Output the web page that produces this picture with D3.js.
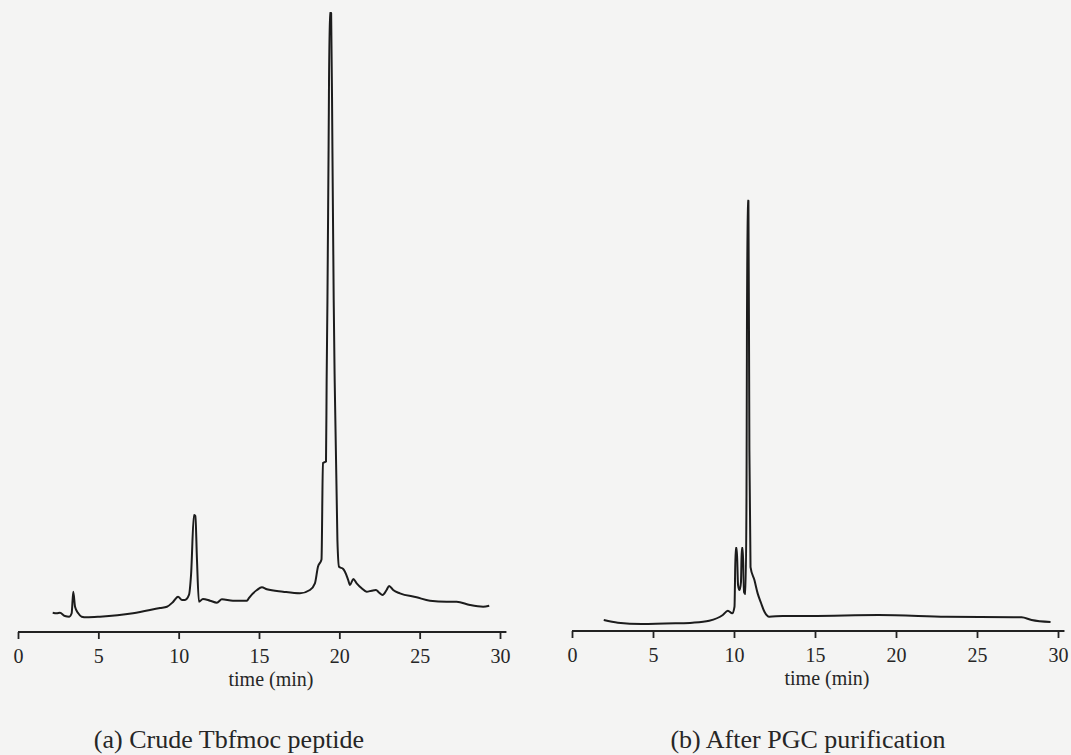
<!DOCTYPE html>
<html>
<head>
<title>HPLC traces</title>
<style>
  body { margin: 0; background: #f4f4f3; }
  text { font-family: "Liberation Serif", "Times New Roman", serif; fill: #262626; }
</style>
<script type="text/javascript" src="https://d3js.org/d3.v7.min.js"></script>
</head>
<body>
<svg id="chart" width="1071" height="755"></svg>
<script type="text/javascript">
// tick labels on both time axes
const timeTicks = [0, 5, 10, 15, 20, 25, 30];

// (a) crude Tbfmoc peptide: time (min) and detector signal (arb. units)
const timeA = [2.16, 2.41, 2.61, 2.92, 3.19, 3.34, 3.44, 3.55, 3.75, 3.96, 4.27, 5.10, 7.16, 8.84, 9.27, 9.65,
  9.96, 10.21, 10.39, 10.64, 10.77, 10.95, 11.04, 11.14, 11.26, 11.51, 11.95, 12.38, 12.69, 13.38, 14.25, 14.37,
  14.87, 15.18, 15.49, 16.49, 17.55, 18.17, 18.48, 18.67, 18.89, 18.98, 19.17, 19.21, 19.26, 19.33, 19.40,
  19.49, 19.57, 19.65, 19.71, 19.88,
  19.98, 20.24, 20.35, 20.55, 20.66, 20.87, 21.08, 21.39, 21.70, 22.01, 22.28, 22.48, 22.69, 22.94, 23.10, 23.35,
  23.77, 24.81, 25.64, 26.68, 27.30, 28.13, 28.95, 29.33];
const signalA = [3.11, 3.02, 3.11, 2.58, 2.47, 3.02, 6.50, 4.08, 3.02, 2.47, 2.37, 2.47, 3.02, 3.87, 4.08, 4.84,
  5.69, 5.16, 5.16, 5.97, 9.19, 18.87, 18.70, 11.60, 4.89, 5.32, 5.05, 4.73, 5.27, 5.05, 5.05, 5.48,
  6.77, 7.21, 6.89, 6.50, 6.24, 6.77, 7.85, 10.53, 11.69, 27.26, 27.50, 40.65, 53.50, 77.70, 99.84,
  99.84, 77.70, 53.50, 40.65, 14.84,
  10.53, 10.16, 9.73, 8.39, 7.58, 8.55, 7.85, 7.05, 6.50, 6.66, 6.77, 6.34, 5.97, 6.77, 7.42, 6.77,
  6.24, 5.60, 5.05, 4.89, 4.89, 4.35, 4.08, 4.24];

// (b) after PGC purification
const timeB = [1.96, 2.83, 4.30, 6.38, 7.43, 8.47, 9.31, 9.62, 9.89, 10.03, 10.10, 10.17, 10.25, 10.34, 10.43,
  10.48, 10.54, 10.62, 10.71, 10.77, 10.83, 10.89, 10.95, 11.02, 11.26, 11.46, 11.67, 11.88, 12.18, 13.00,
  14.74, 18.91, 23.10, 27.26, 27.75, 28.37, 29.54];
const signalB = [1.77, 1.34, 1.13, 1.24, 1.34, 1.66, 2.58, 3.27, 2.85, 3.92, 13.39, 13.39, 7.42, 6.61, 7.90,
  13.39, 13.39, 6.29, 5.97, 21.10, 69.50, 69.50, 29.20, 10.32, 8.23, 6.08, 4.52, 3.11, 2.31, 2.42,
  2.42, 2.58, 2.31, 2.21, 2.21, 1.77, 1.45];

const captions = ["(a) Crude Tbfmoc peptide", "(b) After PGC purification"];
const axisLabel = "time (min)";

const svg = d3.select("#chart");

const panels = [
  { t: timeA, v: signalA, x0: 18, x1: 500, axisY: 632, cap: captions[0], capX: 229 },
  { t: timeB, v: signalB, x0: 572, x1: 1058, axisY: 631, cap: captions[1], capX: 808 }
];

panels.forEach(p => {
  const x = d3.scaleLinear().domain([0, 30]).range([p.x0, p.x1]);
  const y = d3.scaleLinear().domain([0, 100]).range([p.axisY, 12]);

  const g = svg.append("g");

  // axis line runs a little past 30
  g.append("line")
    .attr("x1", x(0)).attr("x2", x(30.4))
    .attr("y1", p.axisY).attr("y2", p.axisY)
    .style("stroke", "#222").style("stroke-width", 1.8);

  const xAxis = d3.axisBottom(x)
    .tickValues(timeTicks)
    .tickSizeInner(7)
    .tickSizeOuter(0)
    .tickPadding(10);

  const ax = g.append("g")
    .attr("transform", `translate(0, ${p.axisY})`)
    .call(xAxis);
  ax.select(".domain").remove();
  ax.selectAll(".tick line").style("stroke", "#222").style("stroke-width", 1.8);
  ax.selectAll(".tick text")
    .style("font-family", "'Liberation Serif', serif")
    .style("font-size", "20px")
    .style("fill", "#262626");

  g.append("text")
    .attr("x", (x(0) + x(30)) / 2 + 12)
    .attr("y", p.axisY + 54)
    .attr("text-anchor", "middle")
    .style("font-size", "20px")
    .text(axisLabel);

  g.append("text")
    .attr("x", p.capX)
    .attr("y", 748)
    .attr("text-anchor", "middle")
    .style("font-size", "26px")
    .text(p.cap);

  const trace = d3.line()
    .x((d, i) => x(p.t[i]))
    .y(d => y(d))
    .curve(d3.curveMonotoneX);

  g.append("path")
    .datum(p.v)
    .attr("d", trace)
    .style("fill", "none")
    .style("stroke", "#1c1c1c")
    .style("stroke-width", 2)
    .style("stroke-linejoin", "round");
});
</script>
</body>
</html>
